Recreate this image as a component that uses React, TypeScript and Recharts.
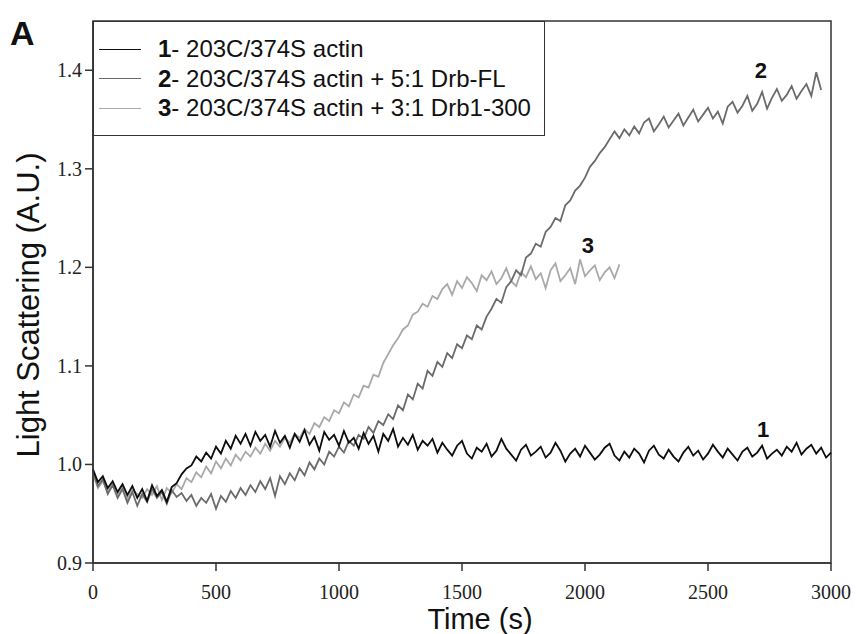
import { LineChart, Line, XAxis, YAxis, ReferenceArea, ReferenceDot } from 'recharts';

// samples every 20 s
const STEP = 20;

// 1- 203C/374S actin
const actin = [
  0.995, 0.982, 0.988, 0.976, 0.983, 0.972, 0.980, 0.969, 0.978, 0.966,
  0.975, 0.963, 0.979, 0.968, 0.974, 0.962, 0.977, 0.981, 0.990, 0.996,
  0.999, 1.008, 1.003, 1.012, 1.006, 1.018, 1.011, 1.024, 1.016, 1.029,
  1.021, 1.031, 1.019, 1.033, 1.024, 1.030, 1.018, 1.034, 1.022, 1.029,
  1.017, 1.031, 1.023, 1.035, 1.020, 1.028, 1.014, 1.033, 1.025, 1.030,
  1.019, 1.034, 1.022, 1.027, 1.016, 1.032, 1.021, 1.029, 1.013, 1.031,
  1.024, 1.036, 1.018, 1.027, 1.020, 1.030, 1.015, 1.024, 1.019, 1.026,
  1.012, 1.022, 1.015, 1.009, 1.019, 1.024, 1.011, 1.006, 1.017, 1.013,
  1.021, 1.008, 1.014, 1.026, 1.016, 1.010, 1.004, 1.015, 1.020, 1.009,
  1.013, 1.018, 1.007, 1.012, 1.022, 1.014, 1.003, 1.011, 1.016, 1.008,
  1.019, 1.012, 1.005, 1.010, 1.017, 1.021, 1.009, 1.004, 1.013, 1.007,
  1.016, 1.011, 1.002, 1.014, 1.019, 1.010, 1.006, 1.015, 1.008, 1.003,
  1.012, 1.018, 1.009, 1.014, 1.005, 1.011, 1.020, 1.013, 1.007, 1.016,
  1.010, 1.004, 1.013, 1.017, 1.008, 1.012, 1.019, 1.006, 1.011, 1.015,
  1.009, 1.018, 1.013, 1.022, 1.010, 1.016, 1.020, 1.011, 1.017, 1.007,
  1.012,
];

// 2- actin + 5:1 Drb-FL
const drbFL = [
  0.992, 0.978, 0.985, 0.970, 0.979, 0.966, 0.975, 0.961, 0.972, 0.958,
  0.970, 0.962, 0.975, 0.966, 0.972, 0.960, 0.974, 0.967, 0.971, 0.963,
  0.969, 0.958, 0.966, 0.961, 0.970, 0.955, 0.968, 0.962, 0.973, 0.966,
  0.976, 0.969, 0.979, 0.972, 0.983, 0.975, 0.986, 0.968, 0.988, 0.980,
  0.991, 0.984, 0.996, 0.989, 1.002, 0.995, 1.006, 1.000, 1.013, 1.008,
  1.018, 1.012, 1.024, 1.019, 1.030, 1.026, 1.038, 1.032, 1.044, 1.040,
  1.051, 1.046, 1.060, 1.055, 1.071, 1.066, 1.082, 1.077, 1.095, 1.090,
  1.104, 1.099, 1.113, 1.108, 1.122, 1.118, 1.131, 1.127, 1.141, 1.137,
  1.150, 1.158, 1.168, 1.164, 1.180, 1.186, 1.197, 1.192, 1.210, 1.214,
  1.224, 1.221, 1.236, 1.241, 1.250, 1.247, 1.263, 1.268, 1.278, 1.283,
  1.291, 1.302, 1.308, 1.316, 1.322, 1.330, 1.338, 1.331, 1.340, 1.334,
  1.343, 1.336, 1.347, 1.351, 1.338, 1.345, 1.353, 1.342, 1.349, 1.356,
  1.344, 1.352, 1.360, 1.348, 1.355, 1.362, 1.351, 1.358, 1.346, 1.363,
  1.368, 1.357, 1.364, 1.374, 1.359, 1.366, 1.378, 1.361, 1.372, 1.381,
  1.369, 1.375, 1.384, 1.371, 1.379, 1.386, 1.374, 1.398, 1.380,
];

// 3- actin + 3:1 Drb1-300
const drb300 = [
  0.990, 0.976, 0.983, 0.972, 0.980, 0.968, 0.977, 0.965, 0.974, 0.970,
  0.966, 0.975, 0.969, 0.978, 0.964, 0.976, 0.971, 0.980, 0.975, 0.986,
  0.982, 0.992, 0.987, 0.998, 0.991, 1.003, 0.996, 1.006, 0.999, 1.010,
  1.004, 1.013, 1.008, 1.017, 1.011, 1.021, 1.014, 1.024, 1.018, 1.027,
  1.022, 1.031, 1.027, 1.036, 1.031, 1.042, 1.038, 1.048, 1.044, 1.055,
  1.052, 1.063, 1.059, 1.071, 1.068, 1.080, 1.078, 1.091, 1.089, 1.103,
  1.112, 1.121, 1.128, 1.137, 1.141, 1.152, 1.155, 1.163, 1.160, 1.171,
  1.168, 1.178, 1.183, 1.172, 1.186, 1.179, 1.190, 1.184, 1.176, 1.192,
  1.187, 1.196, 1.183, 1.189, 1.199, 1.186, 1.181, 1.195, 1.190, 1.201,
  1.188, 1.194, 1.179, 1.197, 1.204, 1.186, 1.192, 1.199, 1.183, 1.208,
  1.191, 1.197, 1.202, 1.187, 1.195, 1.200, 1.189, 1.203,
];

const xTicks = [0, 500, 1000, 1500, 2000, 2500, 3000];
const yTicks = [0.9, 1.0, 1.1, 1.2, 1.3, 1.4];

const colors = ['#0d0d0d', '#6b6b6b', '#a9a9a9'];
const legendNums = ['1', '2', '3'];
const legendTexts = ['203C/374S actin', '203C/374S actin + 5:1 Drb-FL', '203C/374S actin + 3:1 Drb1-300'];

// curve number tags
const tagLabels = ['1', '2', '3'];
const tagTimes = [2724, 2715, 2012];
const tagValues = [1.036, 1.4, 1.222];

const data = actin.map((v, i) => ({
  t: i * STEP,
  s1: v,
  s2: drbFL[i],
  s3: drb300[i],
}));

const serifFont = 'Liberation Serif, DejaVu Serif, Times New Roman, serif';
const sans = 'Arial, Liberation Sans, Helvetica, sans-serif';

const XTick = ({ x, y, payload }: any) => (
  <text x={x} y={y} dy="0.71em" textAnchor="middle" style={{ fontFamily: serifFont, fontSize: 20 }} fill="#222">
    {payload.value}
  </text>
);

const YTick = ({ x, y, payload }: any) => (
  <text x={x} y={y} dy="0.35em" textAnchor="end" style={{ fontFamily: serifFont, fontSize: 20 }} fill="#222">
    {Number(payload.value).toFixed(1)}
  </text>
);

export default function App() {
  return (
    <div style={{ position: 'absolute', left: 0, top: 0, width: 859, height: 634, background: '#fff' }}>
      <LineChart width={859} height={634} data={data} margin={{ top: 21, right: 28, left: 0, bottom: 0 }}>
        <XAxis
          dataKey="t"
          type="number"
          domain={[0, 3000]}
          ticks={xTicks}
          height={71}
          tickSize={8}
          tickMargin={14}
          stroke="#333"
          strokeWidth={1.5}
          tick={XTick}
        />
        <YAxis
          type="number"
          domain={[0.9, 1.45]}
          ticks={yTicks}
          width={93}
          tickSize={8}
          tickMargin={3}
          stroke="#333"
          strokeWidth={1.5}
          tick={YTick}
        />
        <ReferenceArea x1={0} x2={3000} y1={0.9} y2={1.45} fill="none" stroke="#333" strokeWidth={1.5} ifOverflow="visible" />
        <Line dataKey="s3" stroke={colors[2]} strokeWidth={1.8} dot={false} isAnimationActive={false} />
        <Line dataKey="s2" stroke={colors[1]} strokeWidth={1.8} dot={false} isAnimationActive={false} />
        <Line dataKey="s1" stroke={colors[0]} strokeWidth={1.8} dot={false} isAnimationActive={false} />
        {tagLabels.map((lab, i) => (
          <ReferenceDot
            key={lab}
            x={tagTimes[i]}
            y={tagValues[i]}
            r={0}
            fill="none"
            stroke="none"
            label={{ value: lab, position: 'center', fontFamily: sans, fontWeight: 700, fontSize: 22, fill: '#111' }}
          />
        ))}
      </LineChart>

      <svg width={859} height={634} style={{ position: 'absolute', left: 0, top: 0, pointerEvents: 'none' }}>
        <text x={10} y={45} fontFamily={sans} fontWeight={700} fontSize={34} fill="#111">A</text>
        <text
          x={28}
          y={305}
          transform="rotate(-90 28 305)"
          textAnchor="middle"
          dominantBaseline="central"
          fontFamily={sans}
          fontSize={31}
          fill="#111"
        >
          Light Scattering (A.U.)
        </text>
        <text x={480} y={619} textAnchor="middle" dominantBaseline="central" fontFamily={sans} fontSize={29} fill="#111">
          Time (s)
        </text>
      </svg>

      <div
        style={{
          position: 'absolute',
          left: 93,
          top: 21,
          width: 452,
          height: 115,
          boxSizing: 'border-box',
          border: '1.5px solid #333',
          background: '#fff',
          fontFamily: sans,
          fontSize: 24,
          color: '#111',
        }}
      >
        {legendTexts.map((txt, i) => (
          <div
            key={i}
            style={{ position: 'absolute', left: 0, top: 13 + i * 29.5, height: 28, display: 'flex', alignItems: 'center', whiteSpace: 'nowrap' }}
          >
            <span style={{ display: 'inline-block', width: 42, height: 0, borderTop: `1.5px solid ${colors[i]}`, marginLeft: 5, marginRight: 17 }} />
            <span>
              <b>{legendNums[i]}</b>- {txt}
            </span>
          </div>
        ))}
      </div>
    </div>
  );
}
